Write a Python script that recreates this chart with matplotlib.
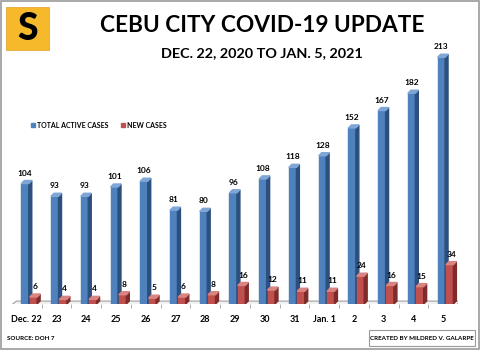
import matplotlib
matplotlib.use("Agg")
import matplotlib.pyplot as plt
from matplotlib.patches import Rectangle, Polygon
import numpy as np

days = ["Dec. 22", "23", "24", "25", "26", "27", "28", "29", "30", "31",
        "Jan. 1", "2", "3", "4", "5"]
total_active = [104, 93, 93, 101, 106, 81, 80, 96, 108, 118, 128, 152, 167, 182, 213]
new_cases = [6, 4, 4, 8, 5, 6, 8, 16, 12, 11, 11, 24, 16, 15, 34]

BLUE = "#4F81BD"
BLUE_SIDE = "#2B4F7E"
BLUE_TOP = "#7FA6D6"
RED = "#C0504D"
RED_SIDE = "#7E2B29"
RED_TOP = "#D98480"

plt.rcParams["font.family"] = ["Lato", "DejaVu Sans"]

fig = plt.figure(figsize=(4.8, 3.5), dpi=100)
fig.patch.set_facecolor("white")

# outer frame
fig.patches.append(Rectangle((0.002, 0.003), 0.995, 0.993, transform=fig.transFigure,
                             fill=False, edgecolor="#9a9a9a", linewidth=1.2))

ax = fig.add_axes([12 / 480, 46 / 350, 446 / 480, 278 / 350])
ax.set_xlim(-0.5, len(days) - 0.5)
ax.set_ylim(0, 240)
for s in ax.spines.values():
    s.set_visible(False)
ax.set_yticks([])

x = np.arange(len(days))
w = 0.25
dx = 0.1   # depth in x (data units)
dy = 2.6   # depth in y (data units)


def bars_3d(xc, vals, front, side, top):
    ax.bar(xc, vals, width=w, color=front, edgecolor=front, linewidth=0.3, zorder=3)
    for xi, v in zip(xc, vals):
        r = xi + w / 2
        l = xi - w / 2
        ax.add_patch(Polygon([(r, 0), (r + dx, dy), (r + dx, v + dy), (r, v)],
                             closed=True, color=side, zorder=3))
        ax.add_patch(Polygon([(l, v), (l + dx, v + dy), (r + dx, v + dy), (r, v)],
                             closed=True, color=top, zorder=3))


# floor
ax.add_patch(Polygon([(-0.55, -1.5), (-0.35, 2.5), (14.6, 2.5), (14.4, -1.5)],
                     closed=True, facecolor="#f2f2f2", edgecolor="#a0a0a0",
                     linewidth=0.8, zorder=1))

bx = x - 0.06
rx = x + 0.22
bars_3d(bx, total_active, BLUE, BLUE_SIDE, BLUE_TOP)
bars_3d(rx, new_cases, RED, RED_SIDE, RED_TOP)

for xi, v in zip(bx, total_active):
    ax.text(xi, v + 6, str(v), ha="center", va="bottom", fontsize=6,
            fontweight="bold", color="black", zorder=4)
for xi, v in zip(rx, new_cases):
    ax.text(xi + 0.05, v + 6, str(v), ha="center", va="bottom", fontsize=6,
            fontweight="bold", color="black", zorder=4)

ax.set_xticks(x)
ax.set_xticklabels(days, fontsize=6.5, fontweight="bold")
ax.tick_params(axis="x", length=0, pad=8)
ax.set_xticks(x[:-1] + 0.5, minor=True)
ax.tick_params(axis="x", which="minor", length=3, color="#a0a0a0", width=0.6)

# titles
fig.text(262 / 480, 1 - 26 / 350, "CEBU CITY COVID-19 UPDATE", ha="center", va="center",
         fontsize=16.3, fontweight="bold", color="black")
fig.text(262 / 480, 1 - 53 / 350, "DEC. 22, 2020 TO JAN. 5, 2021", ha="center", va="center",
         fontsize=10.4, fontweight="bold", color="black")

# logo
fig.patches.append(Rectangle((6 / 480, 1 - 50 / 350), 43 / 480, 43 / 350,
                             transform=fig.transFigure, facecolor="#F6B92B",
                             edgecolor="#E0A020", linewidth=0.5))
fig.text(27.5 / 480, 1 - 29 / 350, "S", ha="center", va="center", fontsize=27,
         fontweight="black", color="black")

# legend
fig.patches.append(Rectangle((31 / 480, 1 - 127 / 350), 4 / 480, 4 / 350,
                             transform=fig.transFigure, color=BLUE))
fig.text(37 / 480, 1 - 125 / 350, "TOTAL ACTIVE CASES", ha="left", va="center",
         fontsize=5, fontweight="bold")
fig.patches.append(Rectangle((121 / 480, 1 - 127 / 350), 4 / 480, 4 / 350,
                             transform=fig.transFigure, color=RED))
fig.text(127 / 480, 1 - 125 / 350, "NEW CASES", ha="left", va="center",
         fontsize=5, fontweight="bold")

# footer
fig.text(7 / 480, 1 - 338 / 350, "SOURCE: DOH 7", ha="left", va="center",
         fontsize=4.5, fontweight="bold")
fig.patches.append(Rectangle((369 / 480, 1 - 346 / 350), 106 / 480, 16 / 350,
                             transform=fig.transFigure, facecolor="white",
                             edgecolor="#9a9a9a", linewidth=0.8))
fig.text(422 / 480, 1 - 338 / 350, "CREATED BY MILDRED V. GALARPE", ha="center",
         va="center", fontsize=4.5, fontweight="bold")

fig.savefig("out.png", dpi=100)
